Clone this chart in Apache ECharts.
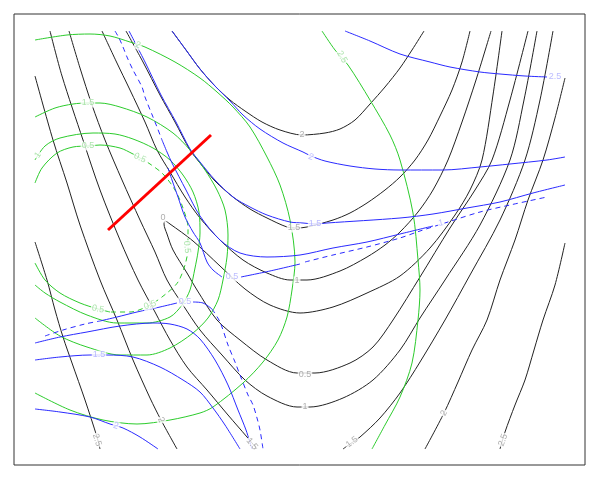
<!DOCTYPE html>
<html><head><meta charset="utf-8">
<script src="https://cdn.jsdelivr.net/npm/echarts@6/dist/echarts.min.js"></script>
<style>html,body{margin:0;padding:0;background:#fff}#c{width:600px;height:480px}</style>
</head><body><div id="c"></div>
<script>
// ---- black contours (valley function) ----
const b2u   = [[172,31],[186,50],[200,69],[215,86],[230,100],[245,111],[262,122],[280,130],[302,135],[325,133],[340,129],[355,120],[370,104],[385,87],[400,68],[412,50],[424,31]];
const b15u  = [[126,31],[143,62],[160,95],[175,122],[190,150],[200,163],[215,181],[233,197],[250,209],[267,218],[287,227],[297,228],[307,227],[333,220],[350,213],[367,203],[385,190],[400,177],[415,160],[428,140],[440,116],[452,90],[462,62],[470,31]];
const b1u   = [[102,31],[116,61],[130,90],[145,122],[157,150],[170,172],[185,197],[200,218],[220,240],[243,260],[267,273],[290,280],[307,280],[340,271],[367,257],[385,245],[400,232],[418,212],[433,190],[448,160],[462,122],[476,80],[491,31]];
const b05   = [[502,31],[493,95],[482,160],[470,190],[455,215],[430,248],[400,276],[367,293],[333,307],[300,313],[270,305],[245,289],[220,266],[193,241],[170,224],[165,221],[164,224],[167,234],[173,250],[187,273],[197,290],[217,320],[240,340],[267,360],[297,373],[315,373],[350,363],[373,347],[393,320],[420,277],[450,228],[475,190],[492,160],[510,100],[528,31]];
const b1l   = [[69,31],[80,68],[92,105],[105,140],[122,180],[140,220],[155,252],[167,280],[183,305],[200,330],[222,355],[245,380],[267,396],[297,407],[310,407],[343,398],[373,380],[400,350],[420,318],[445,280],[480,225],[510,160],[524,100],[537,31]];
const b15lL = [[50,31],[62,76],[83,140],[100,190],[120,240],[138,280],[155,312],[170,340],[187,367],[207,390],[228,415],[247,437],[257,449]];
const b15lR = [[343,449],[350,444],[360,437],[380,418],[400,393],[420,362],[445,320],[470,275],[500,220],[525,160],[540,100],[553,31]];
const b2lL  = [[35,76],[53,140],[67,183],[80,225],[100,280],[117,320],[133,360],[150,398],[161,420],[177,449]];
const b2lR  = [[565,78],[555,118],[543,160],[528,200],[515,240],[500,280],[487,320],[472,350],[458,382],[444,413],[425,449]];
const b25lL = [[35,242],[47,280],[55,310],[63,337],[72,363],[85,400],[97,437],[100,449]];
const b25lR = [[565,243],[555,285],[543,320],[534,350],[525,380],[515,405],[505,432],[500,449]];
// ---- green contours (ellipses) ----
const g05a  = [[35,183],[42,168],[57,153],[73,147],[88,146],[100,145],[120,148],[133,154],[140,158]];
const g05d  = [[140,158],[150,164],[163,174],[175,190],[183,208],[188,228],[188,248],[185,265],[178,282],[167,293],[150,305],[130,312],[110,312]];
const g05b  = [[110,312],[98,309],[80,303],[60,293],[45,280],[35,263]];
const g1    = [[35,160],[45,146],[60,138],[93,133],[115,134],[133,139],[153,148],[170,160],[183,175],[193,192],[199,212],[200,233],[198,252],[195,268],[190,290],[182,305],[170,317],[147,323],[117,323],[87,315],[60,302],[45,293],[35,285]];
const g15   = [[35,117],[55,108],[73,104],[88,103],[100,103],[120,107],[147,117],[173,133],[190,150],[205,170],[217,190],[225,210],[228,235],[227,257],[223,280],[218,300],[208,318],[193,333],[170,348],[147,355],[120,355],[87,347],[60,336],[35,318]];
const g2    = [[35,40],[67,35],[90,34],[110,36],[130,42],[145,47],[175,62],[200,78],[217,92],[233,107],[250,127],[267,157],[280,185],[290,220],[295,262],[292,290],[287,317],[278,340],[263,362],[243,383],[213,407],[200,413],[170,420],[137,424],[103,420],[70,410],[35,393]];
const g25   = [[322,31],[335,50],[348,65],[370,100],[390,135],[400,160],[413,213],[418,260],[420,290],[418,320],[412,363],[400,397],[385,425],[372,449]];
// ---- blue contours ----
const bl25  = [[345,31],[370,41],[400,54],[430,62],[450,67],[480,72],[500,74],[525,76],[547,77]];
const bl2   = [[172,31],[186,50],[200,69],[215,86],[230,101],[243,115],[260,129],[283,143],[303,152],[311,156],[325,161],[350,166],[375,169],[400,170],[443,170],[480,167],[510,164],[547,160],[565,157]];
const bl15  = [[129,31],[145,62],[161,95],[176,122],[190,149],[200,162],[215,180],[233,197],[250,207],[267,215],[290,222],[303,223],[315,224],[327,223],[400,218],[433,214],[467,208],[500,202],[533,193],[565,185]];
const bl1d  = [[115,31],[119,38],[123,47],[127,57],[133,70],[142,87],[145,97],[153,117],[157,127],[162,140]];
const bl1   = [[162,140],[167,152],[172,163],[186,190],[200,216],[220,240],[240,253],[267,257],[300,255],[333,248],[367,242],[400,234],[433,226]];
const bl05u = [[168,168],[172,180],[178,197],[185,217],[193,232],[200,243],[207,262],[213,270],[222,277]];
const bl05m = [[241,277],[270,271],[300,264]];
const bl05r = [[305,262],[333,255],[367,247],[400,238],[420,231],[448,222],[480,212],[510,205],[547,197]];
const bl05a = [[45,336],[63,330],[85,324],[100,321]];
const bl05b = [[100,321],[117,317],[137,312],[160,307],[177,303]];
const bl05c = [[193,302],[203,303],[212,309]];
const bl05e = [[212,309],[220,322],[228,345],[235,362],[240,375],[248,395],[253,405],[257,418],[260,430],[263,449]];
const bl1l  = [[35,343],[60,337],[87,332],[120,326],[153,323],[170,324],[187,329],[200,339],[215,360],[228,385],[238,410],[246,430],[252,449]];
const bl15l = [[35,360],[60,357],[90,355],[107,355],[133,357],[160,367],[183,380],[200,392],[213,408],[225,425],[240,449]];
const bl2l  = [[35,409],[60,412],[90,417],[110,424],[123,428],[140,437],[158,449]];
// ---- red segment ----
const redSeg = [[108,230],[211,135]];
// ---- contour labels: [x, y, text, rotation] ----
const blackLabels = [[302,135,'2',0],[294,228,'1.5',0],[297,281,'1',0],[305,375,'0.5',0],[305,407,'1',0],[352,442,'1.5',38],[252,444,'1.5',-50],[161,420,'2',-65],[97,440,'2.5',-72],[444,413,'2',62],[503,440,'2.5',70],[163,218,'0',0]];
const greenLabels = [[138,45,'2',-20],[88,103,'1.5',0],[88,146,'0.5',0],[140,158,'0.5',-25],[98,309,'0.5',-10],[150,305,'0.5',20],[342,57,'2.5',-60],[38,155,'1',55],[187,247,'0.5',-85]];
const blueLabels  = [[555,77,'2.5',0],[311,157,'2',-20],[315,224,'1.5',0],[441,223,'1',12],[232,277,'0.5',0],[185,302,'0.5',0],[99,355,'1.5',0],[116,426,'2',-18]];

const BLACK='#222', GREEN='#2ccc2c', BLUE='#2a2aff';
function ln(data,color,dash,w){
  return {type:'line',data:data,showSymbol:false,symbol:'none',smooth:0.3,silent:true,z:2,
    lineStyle:{color:color,width:w||1,type:dash?[5,4]:'solid'}};
}
function lab(arr,color){
  return {type:'scatter',z:10,symbolSize:1,itemStyle:{color:'rgba(0,0,0,0)'},silent:true,
    data:arr.map(a=>({value:[a[0],a[1]],name:a[2],label:{rotate:a[3]}})),
    label:{show:true,position:'inside',formatter:'{b}',color:color,fontSize:9,
      fontFamily:'Liberation Sans, Arial, sans-serif',backgroundColor:'#fff',padding:[0,1]}};
}
const series=[];
[b2u,b15u,b1u,b05,b1l,b15lL,b15lR,b2lL,b2lR,b25lL,b25lR].forEach(d=>series.push(ln(d,BLACK)));
[g05a,g05b,g1,g15,g2,g25].forEach(d=>series.push(ln(d,GREEN)));
series.push(ln(g05d,GREEN,true));
[bl25,bl2,bl15,bl1,bl05u,bl05m,bl05b,bl05c,bl1l,bl15l,bl2l].forEach(d=>series.push(ln(d,BLUE)));
[bl1d,bl05r,bl05a,bl05e].forEach(d=>series.push(ln(d,BLUE,true)));
series.push({type:'line',data:redSeg,showSymbol:false,symbol:'none',z:5,lineStyle:{color:'#ff0000',width:3}});
series.push(lab(blackLabels,'#9a9a9a'));
series.push(lab(greenLabels,'#99dd99'));
series.push(lab(blueLabels,'#aaaaff'));

const chart=echarts.init(document.getElementById('c'),null,{renderer:'canvas'});
chart.setOption({
  animation:false,
  grid:{left:14,top:14,right:15,bottom:15,show:true,borderColor:'#333',borderWidth:1,backgroundColor:'#fff'},
  xAxis:{type:'value',min:14,max:585,show:false},
  yAxis:{type:'value',min:14,max:465,inverse:true,show:false},
  series:series
});
</script></body></html>
